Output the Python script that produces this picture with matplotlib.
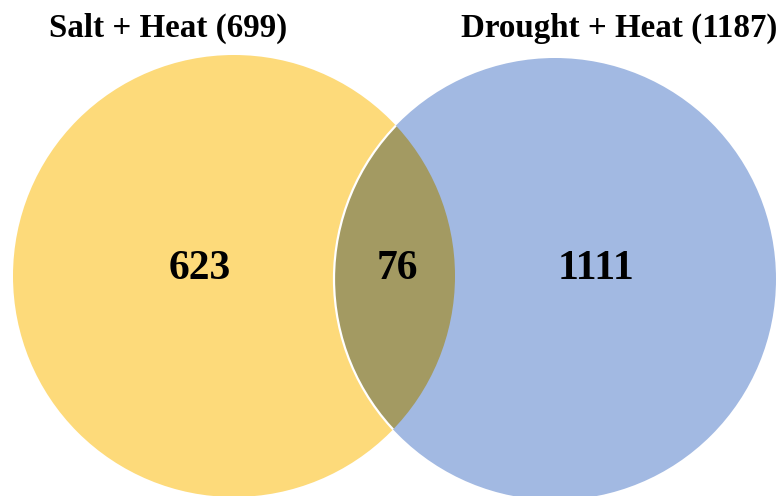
import matplotlib.pyplot as plt
from matplotlib.patches import Circle

set_names = ["Salt + Heat", "Drought + Heat"]
set_totals = [699, 1187]
only_counts = [623, 1111]
shared_count = 76

yellow = "#fdda7a"
blue = "#a2b9e2"
overlap = "#a39a62"

fig = plt.figure(figsize=(7.81, 4.96), dpi=100)
ax = fig.add_axes([0, 0, 1, 1])
ax.set_xlim(0, 781)
ax.set_ylim(496, 0)
ax.set_aspect("equal")
ax.axis("off")

r = 221
c_left = (234, 276)
c_right = (555, 279)

ax.add_patch(Circle(c_left, r, facecolor=yellow, edgecolor="none", zorder=1))
ax.add_patch(Circle(c_right, r, facecolor=blue, edgecolor="none", zorder=2))

# overlap region: left circle clipped by right circle
lens = Circle(c_left, r, facecolor=overlap, edgecolor="none", zorder=3)
ax.add_patch(lens)
lens.set_clip_path(Circle(c_right, r, transform=ax.transData))

# white rim of the right circle inside the left one
rim = Circle(c_right, r, facecolor="none", edgecolor="white", lw=1.6, zorder=4)
ax.add_patch(rim)
rim.set_clip_path(Circle(c_left, r, transform=ax.transData))

font = dict(family="Liberation Serif", weight="bold", color="black")

ax.text(168, 28, f"{set_names[0]} ({set_totals[0]})", ha="center", va="center",
        fontsize=23.8, **font)
ax.text(619, 28, f"{set_names[1]} ({set_totals[1]})", ha="center", va="center",
        fontsize=23.8, **font)

ax.text(200, 269, str(only_counts[0]), ha="center", va="center", fontsize=30, zorder=5, **font)
ax.text(397, 269, str(shared_count), ha="center", va="center", fontsize=30, zorder=5, **font)
ax.text(596, 269, str(only_counts[1]), ha="center", va="center", fontsize=30, zorder=5, **font)

fig.savefig("out.png", dpi=100)
